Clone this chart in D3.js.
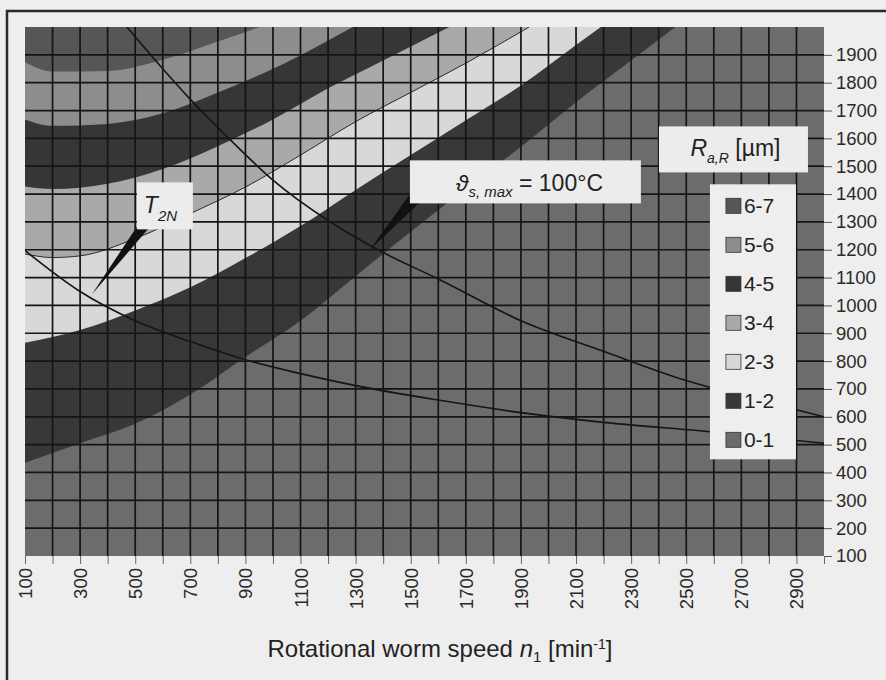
<!DOCTYPE html>
<html lang="en">
<head>
    <meta charset="UTF-8">
    <title>Roughness map</title>
    <script src="https://cdn.jsdelivr.net/npm/d3@7/dist/d3.min.js"></script>
    <style>
        body { margin: 0; background: #eeeeee; }
        svg { display: block; font-family: "Liberation Sans", Arial, sans-serif; }
    </style>
</head>
<body>
<svg id="main" width="886" height="680"></svg>
<script>
    // band edges, [n1, value] pairs (left edge -> top edge)
    const edge01 = [[100, 435], [300, 505], [500, 575], [700, 680], [900, 815], [1100, 945], [1300, 1105],
        [1500, 1265], [1700, 1420], [1900, 1570], [2100, 1730], [2300, 1880], [2460, 2000]];
    const edge12 = [[100, 866], [300, 912], [500, 982], [700, 1065], [900, 1170], [1100, 1285], [1300, 1415],
        [1500, 1540], [1700, 1665], [1900, 1790], [2100, 1935], [2190, 2000]];
    const edge23 = [[100, 1185], [200, 1172], [300, 1178], [500, 1240], [700, 1330], [900, 1425], [1100, 1540],
        [1300, 1660], [1500, 1765], [1700, 1870], [1930, 2000]];
    const edge34 = [[100, 1427], [200, 1418], [400, 1437], [600, 1490], [800, 1572], [1000, 1668], [1200, 1780],
        [1400, 1880], [1640, 2000]];
    const edge45 = [[100, 1668], [200, 1645], [400, 1652], [600, 1690], [800, 1765], [1000, 1850], [1150, 1925],
        [1290, 2000]];
    const edge56 = [[100, 1873], [200, 1840], [400, 1842], [600, 1882], [800, 1948], [950, 2000]];

    // limit curves
    const thermalLimit = [[470, 2000], [600, 1850], [700, 1740], [850, 1590], [1000, 1450], [1200, 1305],
        [1400, 1190], [1600, 1095], [1900, 945], [2200, 835], [2500, 730], [2800, 650], [3000, 600]];
    const torqueLimit = [[100, 1197], [300, 1050], [500, 945], [700, 870], [900, 805], [1100, 755], [1300, 712],
        [1600, 660], [1900, 615], [2200, 580], [2600, 545], [3000, 505]];

    const rangeLabels = ['6-7', '5-6', '4-5', '3-4', '2-3', '1-2', '0-1'];
    const rangeColors = ['#565656', '#8d8d8d', '#363636', '#a9a9a9', '#d8d8d8', '#383838', '#6c6c6c'];

    const xLabels = [100, 300, 500, 700, 900, 1100, 1300, 1500, 1700, 1900, 2100, 2300, 2500, 2700, 2900];
    const yLabels = [100, 200, 300, 400, 500, 600, 700, 800, 900, 1000, 1100, 1200, 1300, 1400, 1500, 1600,
        1700, 1800, 1900];

    let svg = d3.select('svg#main');
    let pLeft = 25, pRight = 824, pTop = 27, pBottom = 556;

    let x = d3.scaleLinear().domain([100, 3000]).range([pLeft, pRight]);
    let y = d3.scaleLinear().domain([100, 2000]).range([pBottom, pTop]);

    // outer frame
    svg.append('path')
        .attr('d', 'M7,680 L7,11 L886,11')
        .attr('fill', 'none')
        .attr('stroke', '#2a2a2a')
        .attr('stroke-width', 2.5);

    svg.append('clipPath').attr('id', 'plotClip')
        .append('rect')
        .attr('x', pLeft).attr('y', pTop)
        .attr('width', pRight - pLeft).attr('height', pBottom - pTop);

    let plot = svg.append('g').attr('clip-path', 'url(#plotClip)');

    // base band 0-1
    plot.append('rect')
        .attr('x', pLeft).attr('y', pTop)
        .attr('width', pRight - pLeft).attr('height', pBottom - pTop)
        .attr('fill', rangeColors[6]);

    let edgeLine = d3.line()
        .x(d => x(d[0]))
        .y(d => y(d[1]))
        .curve(d3.curveMonotoneX);

    // paint each band over the previous one: region above/left of its lower edge
    const edges = [edge01, edge12, edge23, edge34, edge45, edge56];
    edges.forEach(function (e, i) {
        plot.append('path')
            .attr('d', edgeLine(e) + 'L' + x(100) + ',' + (y(2000) - 5) + 'L' + x(100) + ',' + y(e[0][1]) + 'Z')
            .attr('fill', rangeColors[5 - i]);
    });

    // thin contour line between 2-3 and 3-4
    plot.append('path')
        .attr('d', edgeLine(edge23))
        .attr('fill', 'none')
        .attr('stroke', '#2a2a2a')
        .attr('stroke-width', 1);

    // grid
    let gridX = d3.range(200, 3000, 100);
    let gridY = d3.range(200, 2000, 100);
    plot.selectAll('.gx').data(gridX).enter().append('line')
        .attr('class', 'gx')
        .attr('x1', d => x(d)).attr('x2', d => x(d))
        .attr('y1', pTop).attr('y2', pBottom)
        .attr('stroke', '#141414').attr('stroke-width', 1.7);
    plot.selectAll('.gy').data(gridY).enter().append('line')
        .attr('class', 'gy')
        .attr('x1', pLeft).attr('x2', pRight)
        .attr('y1', d => y(d)).attr('y2', d => y(d))
        .attr('stroke', '#141414').attr('stroke-width', 1.7);

    // limit curves
    let curveLine = d3.line()
        .x(d => x(d[0]))
        .y(d => y(d[1]))
        .curve(d3.curveMonotoneX);
    [thermalLimit, torqueLimit].forEach(function (c) {
        plot.append('path')
            .attr('d', curveLine(c))
            .attr('fill', 'none')
            .attr('stroke', '#151515')
            .attr('stroke-width', 1.6);
    });

    // axes
    let yAxis = d3.axisRight(y).tickValues(yLabels).tickFormat(d3.format('d')).tickSize(8).tickPadding(4);
    let gy = svg.append('g').attr('transform', 'translate(' + pRight + ',0)').call(yAxis);
    gy.select('.domain').remove();
    gy.selectAll('line').attr('stroke', '#555');
    gy.selectAll('text')
        .attr('fill', '#2a2a2a')
        .style('font-size', '18.5px')
        .style('font-family', '"Liberation Sans", Arial, sans-serif');

    let xAxis = d3.axisBottom(x)
        .tickValues(d3.range(100, 3001, 100))
        .tickFormat(d => xLabels.includes(d) ? d : '')
        .tickSize(8);
    let gx = svg.append('g').attr('transform', 'translate(0,' + pBottom + ')').call(xAxis);
    gx.select('.domain').remove();
    gx.selectAll('line').attr('stroke', '#666');
    gx.selectAll('text')
        .attr('fill', '#2a2a2a')
        .attr('transform', 'rotate(-90)')
        .attr('text-anchor', 'end')
        .attr('x', -12)
        .attr('y', 0)
        .attr('dy', '0.35em')
        .style('font-size', '18.5px')
        .style('font-family', '"Liberation Sans", Arial, sans-serif');

    // axis title
    let title = svg.append('text')
        .attr('x', 440).attr('y', 657)
        .attr('text-anchor', 'middle')
        .attr('fill', '#222')
        .style('font-size', '24px');
    title.append('tspan').text('Rotational worm speed ');
    title.append('tspan').text('n').style('font-style', 'italic');
    title.append('tspan').text('1').attr('dy', 5).style('font-size', '15px');
    title.append('tspan').text(' [min').attr('dy', -5);
    title.append('tspan').text('-1').attr('dy', -8).style('font-size', '14px');
    title.append('tspan').text(']').attr('dy', 8);

    // callouts
    const boxFill = '#ececec';
    let t2nBox = {x: x(506), y: y(1442), w: 56, h: 47};
    let t2nTip = [x(343), y(1040)];
    svg.append('path')
        .attr('d', 'M' + (t2nBox.x + 1) + ',' + (t2nBox.y + t2nBox.h - 4) +
            'L' + (t2nBox.x + 11) + ',' + (t2nBox.y + t2nBox.h) +
            'L' + t2nTip[0] + ',' + t2nTip[1] + 'Z')
        .attr('fill', '#111');
    svg.append('rect')
        .attr('x', t2nBox.x).attr('y', t2nBox.y)
        .attr('width', t2nBox.w).attr('height', t2nBox.h)
        .attr('fill', boxFill);
    let t2nText = svg.append('text')
        .attr('x', t2nBox.x + 7).attr('y', t2nBox.y + 31)
        .attr('fill', '#222')
        .style('font-size', '23px')
        .style('font-style', 'italic');
    t2nText.append('tspan').text('T');
    t2nText.append('tspan').text('2N').attr('dy', 8).style('font-size', '15px');

    let thermBox = {x: x(1497), y: y(1521), w: 231, h: 43};
    let thermTip = [x(1352), y(1200)];
    svg.append('path')
        .attr('d', 'M' + thermBox.x + ',' + (thermBox.y + thermBox.h - 9) +
            'L' + (thermBox.x + 9) + ',' + (thermBox.y + thermBox.h) +
            'L' + thermTip[0] + ',' + thermTip[1] + 'Z')
        .attr('fill', '#111');
    svg.append('rect')
        .attr('x', thermBox.x).attr('y', thermBox.y)
        .attr('width', thermBox.w).attr('height', thermBox.h)
        .attr('fill', boxFill);
    let thermText = svg.append('text')
        .attr('x', thermBox.x + thermBox.w / 2 + 4).attr('y', thermBox.y + 31)
        .attr('text-anchor', 'middle')
        .attr('fill', '#222')
        .style('font-size', '23px');
    thermText.append('tspan').text('\u03D1').style('font-style', 'italic');
    thermText.append('tspan').text('s, max').attr('dy', 6).style('font-size', '15px').style('font-style', 'italic');
    thermText.append('tspan').text(' = 100\u00B0C').attr('dy', -6);

    let rBox = {x: x(2401), y: y(1643), w: 149, h: 46};
    svg.append('rect')
        .attr('x', rBox.x).attr('y', rBox.y)
        .attr('width', rBox.w).attr('height', rBox.h)
        .attr('fill', boxFill);
    let rText = svg.append('text')
        .attr('x', rBox.x + rBox.w / 2 + 2).attr('y', rBox.y + 30)
        .attr('text-anchor', 'middle')
        .attr('fill', '#222')
        .style('font-size', '23px');
    rText.append('tspan').text('R').style('font-style', 'italic');
    rText.append('tspan').text('a,R').attr('dy', 7).style('font-size', '14px').style('font-style', 'italic');
    rText.append('tspan').text('  [\u00B5m]').attr('dy', -7);

    // legend
    let legendBox = {x: x(2586), y: y(1435), w: 86, h: 275};
    svg.append('rect')
        .attr('x', legendBox.x).attr('y', legendBox.y)
        .attr('width', legendBox.w).attr('height', legendBox.h)
        .attr('fill', '#eeeeee');
    let legend = svg.selectAll('.legendItem').data(rangeLabels)
        .enter().append('g')
        .attr('class', 'legendItem')
        .attr('transform', function (d, i) {
            return 'translate(' + (legendBox.x + 16) + ',' + (legendBox.y + 21 + i * 39) + ')';
        });
    legend.append('rect')
        .attr('x', 0).attr('y', -7)
        .attr('width', 15).attr('height', 15)
        .attr('fill', (d, i) => rangeColors[i])
        .attr('stroke', '#333').attr('stroke-width', 0.8);
    legend.append('text')
        .text(d => d)
        .attr('x', 18).attr('dy', '0.36em')
        .attr('fill', '#222')
        .style('font-size', '21px');
</script>
</body>
</html>
